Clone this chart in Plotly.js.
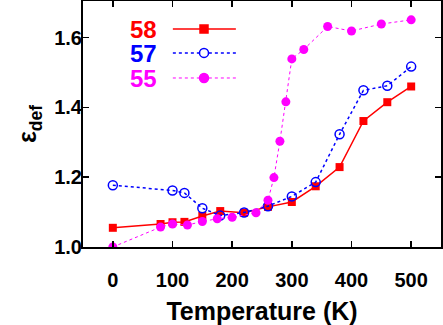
<!DOCTYPE html>
<html>
<head>
<meta charset="utf-8">
<script src="https://cdn.plot.ly/plotly-3.0.1.min.js"></script>
<style>
  html, body { margin: 0; padding: 0; background: #fff; }
  #plot { width: 443px; height: 325px; }
</style>
</head>
<body>
<div id="plot"></div>
<script>
// series: temperature (K) vs epsilon_def
const t58 = [0, 80, 100, 120, 150, 180, 220, 260, 300, 340, 380, 420, 460, 500];
const e58 = [1.055, 1.066, 1.071, 1.072, 1.089, 1.103, 1.098, 1.115, 1.129, 1.174, 1.229, 1.361, 1.415, 1.460];

const t57 = [0, 100, 120, 150, 180, 220, 260, 300, 340, 380, 420, 460, 500];
const e57 = [1.177, 1.162, 1.155, 1.111, 1.090, 1.099, 1.117, 1.145, 1.186, 1.323, 1.449, 1.462, 1.517];

const t55 = [0, 80, 100, 125, 150, 175, 200, 240, 260, 270, 280, 290, 300, 320, 360, 400, 450, 500];
const e55 = [1.000, 1.057, 1.066, 1.063, 1.073, 1.081, 1.085, 1.098, 1.134, 1.199, 1.303, 1.416, 1.539, 1.566, 1.632, 1.619, 1.639, 1.651];

const names = ["58", "57", "55"];
const colors = ["#ff0000", "#0000ff", "#ff00ff"];
const xTicks = [0, 100, 200, 300, 400, 500];
const yTicks = [1.0, 1.2, 1.4, 1.6];

const font = { family: "Liberation Sans, Arial, sans-serif", color: "#000", weight: "bold" };

// the three curves
var traces = [
    {
        x: t58, y: e58, type: "scatter", mode: "lines+markers",
        line: { color: colors[0], width: 1.5 },
        marker: { symbol: "square", size: 8, color: colors[0] }
    },
    {
        x: t57, y: e57, type: "scatter", mode: "lines+markers",
        line: { color: colors[1], width: 1.5, dash: "dot" },
        marker: { symbol: "circle-open", size: 9, color: colors[1], line: { width: 1.5, color: colors[1] } }
    },
    {
        x: t55, y: e55, type: "scatter", mode: "lines+markers",
        line: { color: colors[2], width: 1, dash: "dot" },
        marker: { symbol: "circle", size: 9, color: colors[2] }
    }
];

// hand-made key: label on the left, sample line with marker on the right
var keyRows = [0.886, 0.789, 0.687];
var dashes = ["solid", "dot", "dot"];
var shapes = [], annotations = [];
keyRows.forEach((yy, i) => {
    shapes.push({
        type: "line", xref: "paper", yref: "paper",
        x0: 0.251, x1: 0.427, y0: yy, y1: yy,
        line: { color: colors[i], width: i === 2 ? 1 : 1.5, dash: dashes[i] }
    });
    let sz = i === 0 ? 4 : 4.5;
    shapes.push({
        type: i === 0 ? "rect" : "circle",
        xref: "paper", yref: "paper",
        xsizemode: "pixel", ysizemode: "pixel",
        xanchor: 0.338, yanchor: yy,
        x0: -sz, x1: sz, y0: -sz, y1: sz,
        fillcolor: i === 1 ? "#fff" : colors[i],
        line: { color: colors[i], width: 1.5 }
    });
    annotations.push({
        xref: "paper", yref: "paper", x: 0.212, y: yy,
        xanchor: "right", yanchor: "middle", showarrow: false,
        text: names[i], height: 20,
        font: Object.assign({}, font, { size: 24, color: colors[i] })
    });
});

var axisCommon = {
    showgrid: false, zeroline: false,
    showline: true, linecolor: "#000", linewidth: 2, mirror: "allticks",
    ticks: "inside", ticklen: 6, tickwidth: 1.5, tickcolor: "#000",
    tickfont: Object.assign({}, font, { size: 20 })
};

var layout = {
    width: 443, height: 325,
    margin: { l: 83, r: 2, t: 1, b: 78 },
    paper_bgcolor: "#fff", plot_bgcolor: "#fff",
    showlegend: false,
    xaxis: Object.assign({}, axisCommon, {
        range: [-50, 550], tickvals: xTicks,
        ticklabelstandoff: 14,
        title: { text: "Temperature (K)", font: Object.assign({}, font, { size: 25 }), standoff: 12 }
    }),
    yaxis: Object.assign({}, axisCommon, {
        range: [1.0, 1.705], tickvals: yTicks, tickformat: ".1f",
        ticklabelstandoff: -5,
        title: { text: "ε<sub>def</sub>", font: Object.assign({}, font, { size: 25 }), standoff: 10 }
    }),
    shapes: shapes,
    annotations: annotations
};

Plotly.newPlot("plot", traces, layout, { staticPlot: true });
</script>
</body>
</html>
